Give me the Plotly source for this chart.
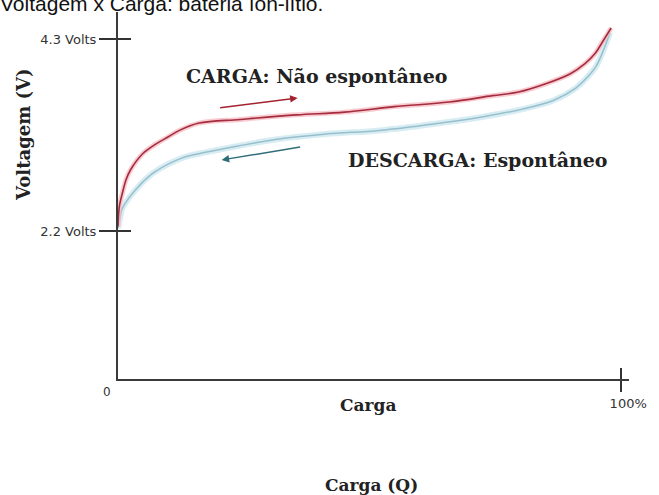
import plotly.graph_objects as go

# curve values: charge (%) vs voltage (V)
carga_x = [0, 0.1, 0.3, 0.9, 1.6, 2.5, 5.0, 7.5, 10.0, 12.2, 16.1, 24.3, 35.5, 45.0,
           54.9, 65.8, 74.4, 79.6, 85.0, 89.9, 92.8, 94.8, 96.3, 98.0]
carga_v = [2.25, 2.37, 2.48, 2.62, 2.76, 2.87, 3.05, 3.15, 3.23, 3.30, 3.38, 3.42, 3.47, 3.50,
           3.56, 3.61, 3.68, 3.72, 3.81, 3.92, 4.03, 4.14, 4.27, 4.42]

descarga_x = [0, 0.4, 0.8, 1.9, 3.5, 5.0, 7.4, 12.8, 17.4, 23.9, 31.3, 41.4, 52.0,
              62.7, 72.6, 80.2, 86.6, 90.9, 93.4, 95.0, 96.2, 97.8]
descarga_v = [2.23, 2.34, 2.44, 2.54, 2.65, 2.74, 2.85, 3.00, 3.06, 3.13, 3.20, 3.26, 3.30,
              3.37, 3.45, 3.53, 3.63, 3.76, 3.89, 4.00, 4.14, 4.37]

y_ticks = [4.3, 2.2]
y_ticktext = ["4.3 Volts", "2.2 Volts"]
x_ticks = [100]
x_ticktext = ["100%"]

x_range = [0, 101.55]
y_range = [0.581, 4.595]

serif = "DejaVu Serif"
sans = "DejaVu Sans"

fig = go.Figure()

# soft halo under each curve, then the curve itself
fig.add_trace(go.Scatter(x=descarga_x, y=descarga_v, mode="lines", line_shape="spline",
                         line=dict(color="rgba(205,232,240,0.8)", width=6), hoverinfo="skip"))
fig.add_trace(go.Scatter(x=descarga_x, y=descarga_v, mode="lines", line_shape="spline",
                         line=dict(color="#98bfcc", width=1.5), name="Descarga"))
fig.add_trace(go.Scatter(x=carga_x, y=carga_v, mode="lines", line_shape="spline",
                         line=dict(color="rgba(246,190,198,0.8)", width=5), hoverinfo="skip"))
fig.add_trace(go.Scatter(x=carga_x, y=carga_v, mode="lines", line_shape="spline",
                         line=dict(color="#a52c3e", width=1.6), name="Carga"))
# empty trace so the overlaid axes (inner half of the cross ticks) get drawn
fig.add_trace(go.Scatter(x=[None], y=[None], xaxis="x2", yaxis="y2", hoverinfo="skip"))

annotations = [
    # title, partly cut off at the top of the page
    dict(text="Voltagem x Carga: bateria íon-lítio.", xref="paper", yref="paper",
         x=-0.234, y=1.0245, xanchor="left", yanchor="middle", showarrow=False,
         font=dict(family="Liberation Sans", size=21, color="#111")),
    dict(text="<b>Voltagem (V)</b>", xref="paper", yref="y", x=-0.184, y=3.25,
         xanchor="center", yanchor="middle",
         textangle=-90, showarrow=False, font=dict(family=serif, size=18, color="#222")),
    dict(text="<b>CARGA: Não espontâneo</b>", x=39.4, y=3.895, showarrow=False,
         xanchor="center", yanchor="middle", font=dict(family=serif, size=19, color="#222")),
    dict(text="<b>DESCARGA: Espontâneo</b>", x=71.5, y=2.977, showarrow=False,
         xanchor="center", yanchor="middle", font=dict(family=serif, size=19, color="#222")),
    dict(text="0", x=0, y=y_range[0], xshift=-11, yshift=-13, showarrow=False,
         xanchor="center", yanchor="middle", font=dict(family=sans, size=12, color="#333")),
    dict(text="<b>Carga</b>", x=49.6, xref="x", yref="paper", y=-0.071, showarrow=False,
         xanchor="center", yanchor="middle", font=dict(family=serif, size=17, color="#222")),
    dict(text="<b>Carga (Q)</b>", x=50.4, xref="x", yref="paper", y=-0.289, showarrow=False,
         xanchor="center", yanchor="middle", font=dict(family=serif, size=17, color="#222")),
    # direction arrows
    dict(x=35.7, y=3.655, ax=20.0, ay=3.545, axref="x", ayref="y", text="",
         showarrow=True, arrowhead=2, arrowsize=1, arrowwidth=1.5, arrowcolor="#a3222f"),
    dict(x=20.6, y=2.977, ax=36.5, ay=3.12, axref="x", ayref="y", text="",
         showarrow=True, arrowhead=2, arrowsize=1, arrowwidth=1.5, arrowcolor="#2f6d78"),
]

fig.update_layout(
    width=659, height=495,
    margin=dict(l=118, r=19, t=12, b=116),
    paper_bgcolor="white", plot_bgcolor="white",
    showlegend=False,
    annotations=annotations,
    xaxis=dict(range=x_range, showgrid=False, zeroline=False, showline=True,
               linecolor="#3a3a3a", linewidth=2, tickvals=x_ticks, ticktext=x_ticktext,
               ticks="outside", ticklen=11, tickwidth=1.5, tickcolor="#333",
               ticklabelshift=7, tickfont=dict(family=sans, size=13, color="#333")),
    xaxis2=dict(range=x_range, overlaying="x", anchor="y", side="bottom", showgrid=False,
                zeroline=False, showline=False, tickvals=x_ticks, ticks="inside",
                ticklen=11, tickwidth=1.5, tickcolor="#333", showticklabels=False),
    yaxis=dict(range=y_range, showgrid=False, zeroline=False, showline=True,
               linecolor="#3a3a3a", linewidth=2, tickvals=y_ticks, ticktext=y_ticktext,
               ticks="outside", ticklen=17, tickwidth=1.5, tickcolor="#333",
               tickfont=dict(family=sans, size=13, color="#333")),
    yaxis2=dict(range=y_range, overlaying="y", anchor="x", side="left", showgrid=False,
                zeroline=False, showline=False, tickvals=y_ticks, ticks="inside",
                ticklen=13, tickwidth=1.5, tickcolor="#333", showticklabels=False),
)

# drop the page's default 8px body margin so the figure sits at the window corner
fig.write_html("out.html", config={"displayModeBar": False},
               post_script="document.body.style.margin='0';")
